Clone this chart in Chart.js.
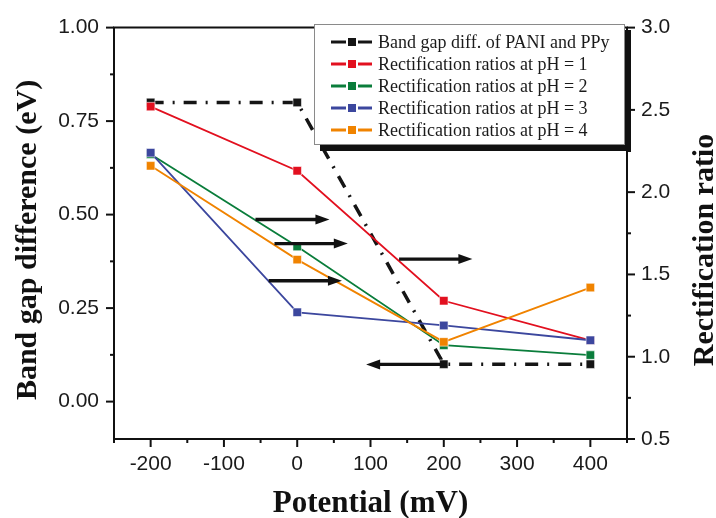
<!DOCTYPE html>
<html>
<head>
<meta charset="utf-8">
<script src="https://cdn.jsdelivr.net/npm/chart.js@4.4.1/dist/chart.umd.min.js"></script>
<style>
  html, body { margin: 0; padding: 0; background: #fff; }
</style>
</head>
<body>
<canvas id="chart" width="716" height="518"></canvas>
<script>
// data
const potentials = [-200, 0, 200, 400];
const bandGap = [0.80, 0.80, 0.10, 0.10];      // left axis (eV)
const ratioPH1 = [2.52, 2.13, 1.34, 1.10];     // right axis
const ratioPH2 = [2.23, 1.67, 1.07, 1.01];
const ratioPH3 = [2.24, 1.27, 1.19, 1.10];
const ratioPH4 = [2.16, 1.59, 1.09, 1.42];

const seriesLabels = [
  "Band gap diff. of PANI and PPy",
  "Rectification ratios at pH = 1",
  "Rectification ratios at pH = 2",
  "Rectification ratios at pH = 3",
  "Rectification ratios at pH = 4",
];
const seriesColors = ["#151515", "#e2101f", "#0a7d3b", "#3c479e", "#f08300"];

const xTicks = [-200, -100, 0, 100, 200, 300, 400];
const leftTicks = [0, 0.25, 0.5, 0.75, 1.0];
const rightTicks = [0.5, 1.0, 1.5, 2.0, 2.5, 3.0];

// arrows pointing to the axis each curve belongs to (x from -> to, y on left axis)
const arrows = [
  { from: -57, to: 44, y: 0.487 },
  { from: -31, to: 69, y: 0.4225 },
  { from: -39, to: 61, y: 0.323 },
  { from: 139, to: 239, y: 0.381 },
  { from: 195, to: 94, y: 0.0995 },
];

const pts = (ys) => potentials.map((x, i) => ({ x: x, y: ys[i] }));

const serif = "'Liberation Serif', 'Times New Roman', serif";
const sans = "'Liberation Sans', Arial, sans-serif";

function minorTicks(majors, min, max) {
  const half = (majors[1] - majors[0]) / 2;
  const out = [];
  for (let v = majors[0] - half; v <= max + 1e-9; v += 2 * half) {
    if (v >= min - 1e-9) out.push(v);
  }
  return out;
}

const decorations = {
  id: "decorations",
  afterDraw(chart) {
    const ctx = chart.ctx;
    const area = chart.chartArea;
    const sx = chart.scales.x, sy = chart.scales.y, sy1 = chart.scales.y1;
    ctx.save();
    ctx.strokeStyle = "#111";
    ctx.lineWidth = 2;

    // top frame line
    ctx.beginPath();
    ctx.moveTo(area.left - 1, area.top);
    ctx.lineTo(area.right + 1, area.top);
    ctx.stroke();

    // tick marks (major 8px, minor 4px, outside)
    const tick = (x1, y1, x2, y2) => { ctx.beginPath(); ctx.moveTo(x1, y1); ctx.lineTo(x2, y2); ctx.stroke(); };
    xTicks.forEach(v => { const p = sx.getPixelForValue(v); tick(p, area.bottom, p, area.bottom + 8); });
    minorTicks(xTicks, sx.min, sx.max).forEach(v => { const p = sx.getPixelForValue(v); tick(p, area.bottom, p, area.bottom + 4); });
    leftTicks.forEach(v => { const p = sy.getPixelForValue(v); tick(area.left, p, area.left - 8, p); });
    minorTicks(leftTicks, sy.min, sy.max).forEach(v => { const p = sy.getPixelForValue(v); tick(area.left, p, area.left - 4, p); });
    rightTicks.forEach(v => { const p = sy1.getPixelForValue(v); tick(area.right, p, area.right + 8, p); });
    minorTicks(rightTicks, sy1.min, sy1.max).forEach(v => { const p = sy1.getPixelForValue(v); tick(area.right, p, area.right + 4, p); });

    // arrows
    ctx.fillStyle = "#111";
    ctx.lineWidth = 3.4;
    arrows.forEach(a => {
      const x0 = sx.getPixelForValue(a.from), x1 = sx.getPixelForValue(a.to);
      const y = sy.getPixelForValue(a.y);
      const dir = Math.sign(x1 - x0);
      ctx.beginPath();
      ctx.moveTo(x0, y);
      ctx.lineTo(x1 - dir * 10, y);
      ctx.stroke();
      ctx.beginPath();
      ctx.moveTo(x1, y);
      ctx.lineTo(x1 - dir * 14, y - 5);
      ctx.lineTo(x1 - dir * 14, y + 5);
      ctx.closePath();
      ctx.fill();
    });

    // axis titles
    ctx.fillStyle = "#111";
    ctx.textAlign = "center";
    ctx.textBaseline = "alphabetic";
    ctx.font = "bold 31px " + serif;
    ctx.fillText("Potential (mV)", (area.left + area.right) / 2, 512);
    ctx.font = "bold 30px " + serif;
    ctx.save();
    ctx.translate(36, 240);
    ctx.rotate(-Math.PI / 2);
    ctx.fillText("Band gap difference (eV)", 0, 0);
    ctx.restore();
    ctx.save();
    ctx.translate(713, 250);
    ctx.rotate(-Math.PI / 2);
    ctx.fillText("Rectification ratio", 0, 0);
    ctx.restore();

    // legend box with drop shadow
    const bx = 314, by = 24, bw = 311, bh = 121;
    ctx.fillStyle = "#111";
    ctx.fillRect(bx + 6, by + 6, bw, bh);
    ctx.fillStyle = "#fff";
    ctx.fillRect(bx, by, bw, bh);
    ctx.strokeStyle = "#8a8a8a";
    ctx.lineWidth = 1;
    ctx.strokeRect(bx + 0.5, by + 0.5, bw - 1, bh - 1);

    ctx.font = "18px " + serif;
    ctx.textAlign = "left";
    ctx.textBaseline = "middle";
    chart.data.datasets.forEach((ds, i) => {
      const y = 42 + i * 22;
      ctx.strokeStyle = ds.borderColor;
      ctx.lineWidth = 3;
      tick(331, y, 346, y);
      tick(358, y, 372, y);
      ctx.fillStyle = ds.borderColor;
      ctx.fillRect(348, y - 4, 8, 8);
      ctx.fillStyle = "#1a1a1a";
      ctx.fillText(ds.label, 378, y + 1);
    });
    ctx.restore();
  }
};

const seriesData = [bandGap, ratioPH1, ratioPH2, ratioPH3, ratioPH4];
const drawOrder = [4, 3, 2, 1, 0];

const datasets = seriesData.map((ys, i) => ({
  label: seriesLabels[i],
  data: pts(ys),
  yAxisID: i === 0 ? "y" : "y1",
  order: drawOrder[i],
  borderColor: seriesColors[i],
  backgroundColor: seriesColors[i],
  borderWidth: i === 0 ? 3.5 : 1.8,
  borderDash: i === 0 ? [13, 9, 2, 9] : [],
  pointStyle: "rect",
  pointRadius: 6,
  pointBackgroundColor: seriesColors[i],
  pointBorderColor: "rgba(255,255,255,0.55)",
  pointBorderWidth: 1,
  tension: 0,
}));

new Chart(document.getElementById("chart"), {
  type: "line",
  data: { datasets: datasets },
  options: {
    responsive: false,
    animation: false,
    layout: { padding: { top: 24, left: 0, right: 0, bottom: 0 } },
    plugins: { legend: { display: false }, tooltip: { enabled: false } },
    scales: {
      x: {
        type: "linear",
        min: -250,
        max: 450,
        afterBuildTicks: (s) => { s.ticks = xTicks.map(v => ({ value: v })); },
        afterFit: (s) => { s.height = 79; },
        grid: { display: false, drawTicks: false },
        border: { display: true, color: "#111", width: 2 },
        ticks: { padding: 13, color: "#1a1a1a", font: { family: sans, size: 21 } },
      },
      y: {
        position: "left",
        min: -0.1,
        max: 1.0,
        afterBuildTicks: (s) => { s.ticks = leftTicks.map(v => ({ value: v })); },
        afterFit: (s) => { s.width = 114; },
        grid: { display: false, drawTicks: false },
        border: { display: true, color: "#111", width: 2 },
        ticks: { padding: 15, color: "#1a1a1a", font: { family: sans, size: 21 }, callback: (v) => v.toFixed(2) },
      },
      y1: {
        position: "right",
        min: 0.5,
        max: 3.0,
        afterBuildTicks: (s) => { s.ticks = rightTicks.map(v => ({ value: v })); },
        afterFit: (s) => { s.width = 89; },
        grid: { display: false, drawTicks: false },
        border: { display: true, color: "#111", width: 2 },
        ticks: { padding: 14, color: "#1a1a1a", font: { family: sans, size: 21 }, callback: (v) => v.toFixed(1) },
      },
    },
  },
  plugins: [decorations],
});
</script>
</body>
</html>
